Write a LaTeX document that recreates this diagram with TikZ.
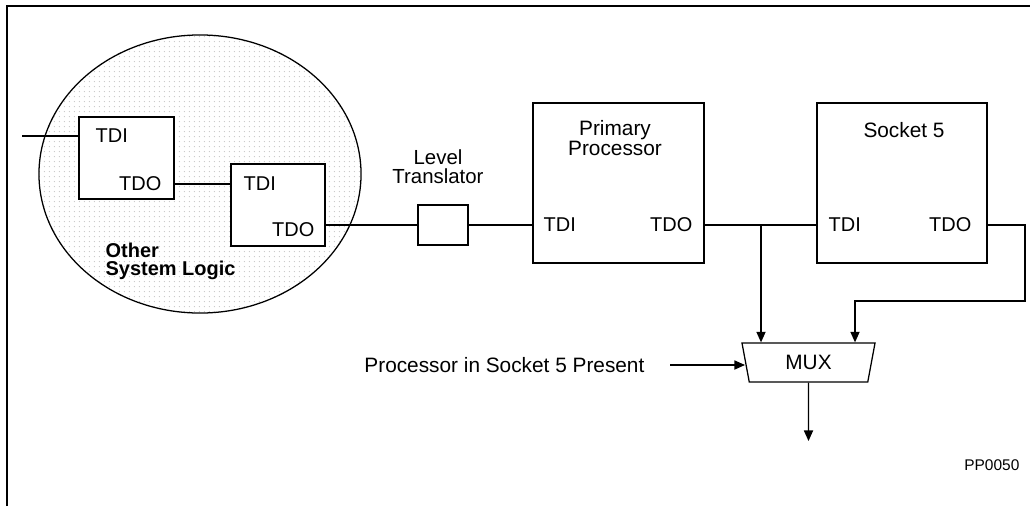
\documentclass[tikz,border=0pt]{standalone}
\usepackage{fontspec}
\setmainfont{Liberation Sans}
\usetikzlibrary{arrows.meta,positioning,calc,shapes.geometric,patterns.meta}

\tikzdeclarepattern{
  name=logicdots,
  type=uncolored,
  bounding box={(0pt,0pt) and (3.8pt,3.8pt)},
  tile size={(3.8pt,3.8pt)},
  code={\fill (1.9pt,1.9pt) circle (0.5pt);}
}

\begin{document}
\begin{tikzpicture}[
  x=0.025cm, y=-0.025cm,
  line width=0.9pt,
  every node/.style={font=\fontsize{14.8}{13}\selectfont},
  box/.style={draw, fill=white, inner sep=0pt},
  lbl/.style={inner sep=0pt},
  pin/.style={inner sep=0pt, font=\fontsize{14.2}{16}\selectfont},
  arr/.style={-{Triangle[length=7.5pt,width=6.5pt]}}
]
\useasboundingbox (0,0) rectangle (1030,506);
\draw[line width=1.4pt] (7,506) -- (7,6) -- (1030,6);

% other system logic
\node[ellipse, draw, pattern=logicdots, pattern color=gray!45, minimum width=8.05cm, minimum height=6.95cm, inner sep=0pt] (logic) at (200,174) {};
\node[box, minimum width=2.375cm, minimum height=2.05cm] (ina) at (126.5,158) {};
\node[box, minimum width=2.35cm, minimum height=2.05cm] (inb) at (278,205) {};
\node[pin, anchor=west] (ina-tdi) at (95,136) {TDI};
\node[pin, anchor=east] (ina-tdo) at (162,184) {TDO};
\node[pin, anchor=west] (inb-tdi) at (243,184) {TDI};
\node[pin, anchor=east] (inb-tdo) at (315,230) {TDO};
\node[lbl, anchor=north west, align=left, font=\fontsize{14.2}{13}\selectfont\bfseries] (logic-lbl) at (105,242) {Other\\System Logic};

% translator and processors
\node[box, minimum width=1.25cm, minimum height=1cm] (lt) at (443,225) {};
\node[lbl, align=center, font=\fontsize{14.5}{13.6}\selectfont] (lt-lbl) at (438,167) {Level\\Translator};
\node[box, minimum width=4.275cm, minimum height=4cm] (prim) at (618.5,183) {};
\node[lbl, align=center] (prim-lbl) at (615,138) {\lineskiplimit=-10pt\relax Primary\\Processor};
\node[pin, anchor=west] (prim-tdi) at (543,225) {TDI};
\node[pin, anchor=east] (prim-tdo) at (693,225) {TDO};
\node[box, minimum width=4.25cm, minimum height=4cm] (sock) at (902,183) {};
\node[lbl] (sock-lbl) at (904,130) {Socket 5};
\node[pin, anchor=west] (sock-tdi) at (828,225) {TDI};
\node[pin, anchor=east] (sock-tdo) at (972,225) {TDO};

% mux
\node[trapezium, draw, shape border rotate=180, trapezium stretches body, trapezium angle=63.4, minimum width=3.325cm, minimum height=0.975cm, inner sep=0pt] (mux) at (808.5,362.5) {MUX};
\node[lbl, anchor=east] (sel) at (645,365) {Processor in Socket 5 Present};
\node[lbl, anchor=east, font=\fontsize{11}{13}\selectfont] (code) at (1020,465) {PP0050};

\coordinate (tdin) at (22,136);
\coordinate (j) at (761,225);
\coordinate (ret) at (1025,301);
\coordinate (retin) at (855,301);
\coordinate (selin) at (670,365);
\coordinate (out) at (808.5,441);

\draw (tdin) -- (tdin -| ina.west);
\draw (ina.east |- ina-tdo) -- (inb.west |- ina-tdo);
\draw (inb.east |- lt) -- (lt.west);
\draw (lt.east) -- (prim.west |- lt);
\draw (prim.east |- lt) -- (sock.west |- lt);
\draw[arr] (j) -- (j |- mux.north);
\draw[arr] (sock.east |- lt) -| (ret) -- (retin) -- (retin |- mux.north);
\draw[arr] (selin) -- (selin -| mux.west);
\draw[arr] (mux.south) -- (out);
\end{tikzpicture}
\end{document}
